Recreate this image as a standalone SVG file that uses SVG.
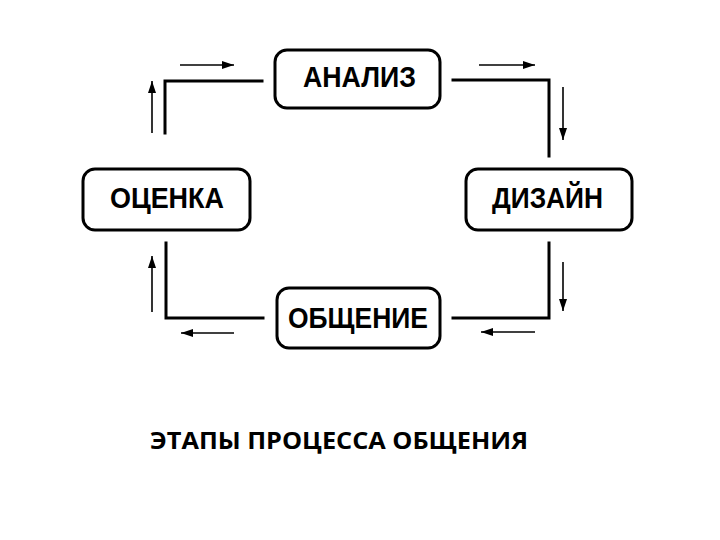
<svg xmlns="http://www.w3.org/2000/svg" width="720" height="540" viewBox="0 0 720 540">
<style>
.box{fill:#fff;stroke:#000;stroke-width:3}
.lbl{font-family:"Liberation Sans",Arial,sans-serif;font-weight:bold;font-size:29px;fill:#000}
.con{fill:none;stroke:#000;stroke-width:3;stroke-linecap:square}
.arr{stroke:#000;stroke-width:1.6;marker-end:url(#ah)}
</style>
<defs>
<marker id="ah" viewBox="0 0 12 8" refX="12" refY="4" markerWidth="12" markerHeight="8" markerUnits="userSpaceOnUse" orient="auto">
<path d="M0,0 L12,4 L0,8 Z" fill="#000"/>
</marker>
</defs>
<rect width="720" height="540" fill="#fff"/>
<g id="connectors">
<polyline class="con" points="262,81 165,81 165,133"/>
<polyline class="con" points="453,80 549,80 549,156"/>
<polyline class="con" points="166,243 166,318 263,318"/>
<polyline class="con" points="549,243 549,318 453,318"/>
<line class="arr" x1="180" y1="65" x2="234" y2="65"/>
<line class="arr" x1="152" y1="133" x2="152" y2="81"/>
<line class="arr" x1="479" y1="65" x2="535" y2="65"/>
<line class="arr" x1="563" y1="87" x2="563" y2="140"/>
<line class="arr" x1="152" y1="312" x2="152" y2="256"/>
<line class="arr" x1="234" y1="333" x2="181" y2="333"/>
<line class="arr" x1="563" y1="262" x2="563" y2="311"/>
<line class="arr" x1="535" y1="332" x2="481" y2="332"/>
</g>
<g id="analiz">
<rect class="box" x="275" y="50" width="165" height="58" rx="12"/>
<text class="lbl" x="303" y="87" textLength="113" lengthAdjust="spacingAndGlyphs">АНАЛИЗ</text>
</g>
<g id="dizain">
<rect class="box" x="466" y="169" width="166" height="61" rx="12"/>
<text class="lbl" x="492" y="208" textLength="111" lengthAdjust="spacingAndGlyphs">ДИЗАЙН</text>
</g>
<g id="ocenka">
<rect class="box" x="83" y="169" width="167" height="61" rx="12"/>
<text class="lbl" x="110" y="208" textLength="114" lengthAdjust="spacingAndGlyphs">ОЦЕНКА</text>
</g>
<g id="obshenie">
<rect class="box" x="277" y="288" width="163" height="60" rx="12"/>
<text class="lbl" x="288" y="328" textLength="140" lengthAdjust="spacingAndGlyphs">ОБЩЕНИЕ</text>
</g>
<text x="150" y="449" font-family="'Open Sans','Noto Sans',sans-serif" font-weight="700" font-size="23" fill="#000" textLength="378" lengthAdjust="spacingAndGlyphs">ЭТАПЫ ПРОЦЕССА ОБЩЕНИЯ</text>
</svg>
